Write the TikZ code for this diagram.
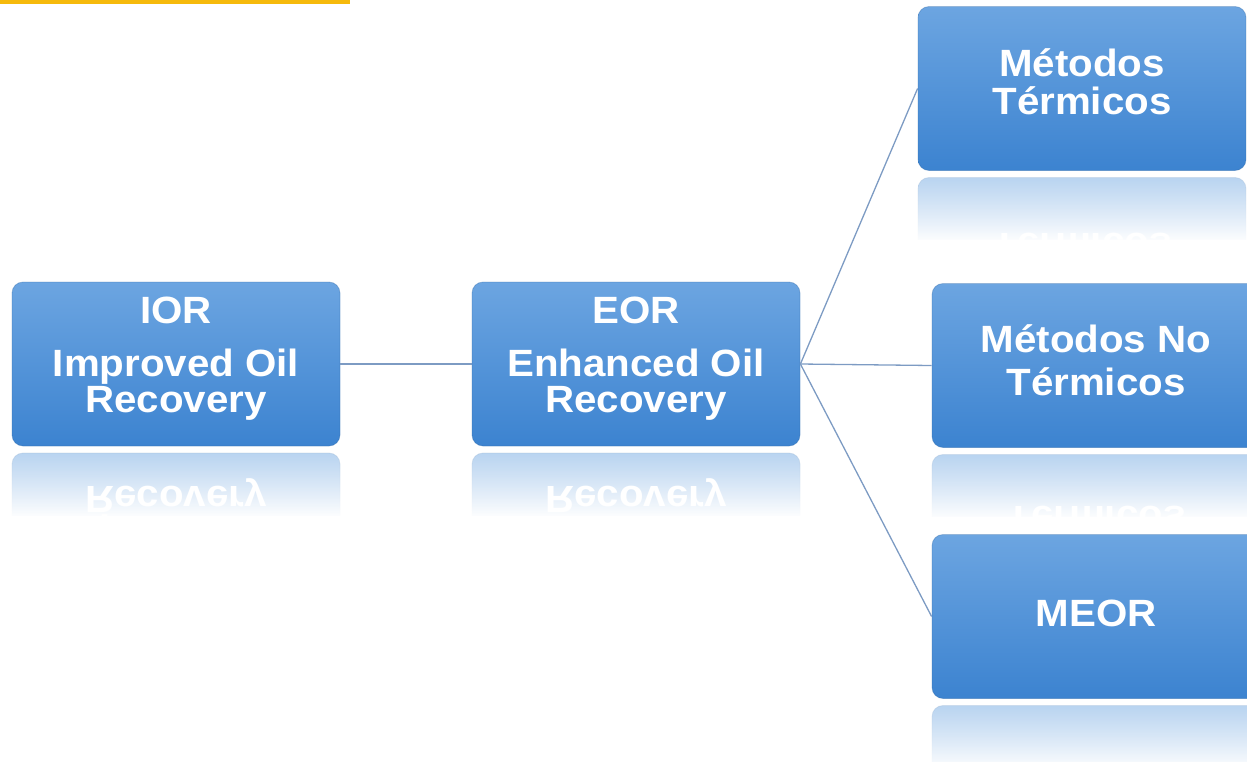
\documentclass[tikz,border=0pt]{standalone}
\usepackage{fontspec}
\setmainfont{Liberation Sans}
\newfontfamily\boxfont[FakeStretch=1.06]{Liberation Sans}
\usetikzlibrary{fadings,calc}

\definecolor{boxtop}{RGB}{108,165,225}
\definecolor{boxbot}{RGB}{60,131,208}
\definecolor{linkc}{RGB}{125,155,195}
\definecolor{barc}{RGB}{246,186,12}

% white veil that turns a mirrored box into a fading reflection
\tikzfading[name=reflfade, top color=transparent!50, bottom color=transparent!0]

\tikzset{
  boxshape/.style={rounded corners=11pt, top color=boxtop, bottom color=boxbot,
    draw=boxbot!80!black, draw opacity=0.35, line width=0.8pt,
    minimum width=328pt, minimum height=164pt, inner sep=0pt},
  boxtext/.style={text=white, font={\boxfont\bfseries\fontsize{38}{36}\selectfont},
    align=center, inner sep=0pt},
  link/.style={draw=linkc, line width=1.3pt},
}

% #1 name, #2 x centre, #3 y centre, #4 label, #5 vertical shift of the label,
% #6 1 = the label shows in the reflection, 0 = it does not
\newcommand\diagbox[6]{%
  \node[boxshape] (#1) at (#2,#3) {};
  \node[boxtext] (#1-t) at (#2,#3+#5) {#4};
  \begin{scope}
    \clip (#2-170,#3+85.5) rectangle ++(340,72);
    \begin{scope}[yshift={-(2*#3+171)}, yscale=-1]
      \node[boxshape, transform shape] (#1-r) at (#2,#3) {};
      \ifnum#6=1
        \node[boxtext, transform shape] (#1-rt) at (#2,#3+#5) {#4};
      \fi
    \end{scope}
    \fill[white, path fading=reflfade] (#2-170,#3+85.5) rectangle ++(340,68);
    \fill[white] (#2-170,#3+85.5+66) rectangle ++(340,8);
  \end{scope}
}

\begin{document}
\begin{tikzpicture}[x=1pt,y=-1pt]
\useasboundingbox (0,0) rectangle (1247,761);
\clip (0,0) rectangle (1247,761);

% title bar
\fill[barc] (0,0) rectangle (350,3.5);

\diagbox{ior}{176}{364}{IOR\\[17pt]Improved Oil\\Recovery}{-5.1}{1}
\diagbox{eor}{636}{364}{EOR\\[17pt]Enhanced Oil\\Recovery}{-5.1}{1}
\diagbox{term}{1082}{88.5}{Métodos\\[2pt]Térmicos}{-6.3}{1}
\diagbox{noterm}{1096}{365.5}{Métodos No\\[7pt]Térmicos}{-4.8}{1}
\diagbox{meor}{1096}{616.5}{MEOR}{-3.1}{0}

\draw[link] (ior.east) -- (eor.west);
\draw[link] (eor.east) -- (term.west);
\draw[link] (eor.east) -- (noterm.west);
\draw[link] (eor.east) -- (meor.west);
\end{tikzpicture}
\end{document}
